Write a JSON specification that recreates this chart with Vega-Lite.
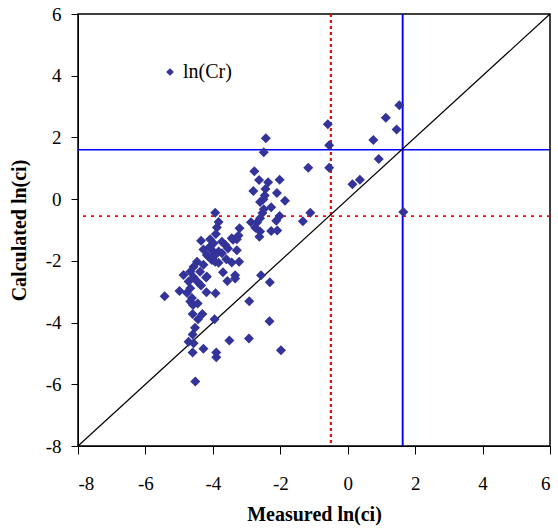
{
  "$schema": "https://vega.github.io/schema/vega-lite/v6.json",
  "autosize": {"type": "none"},
  "padding": {"left": 78, "top": 14, "right": 8, "bottom": 85},
  "width": 472,
  "height": 432,
  "background": "white",
  "config": {
    "view": {"stroke": "black", "strokeWidth": 1.5},
    "font": "Liberation Serif"
  },
  "datasets": {
    "pts": [
      {"m": -0.59, "c": 2.43}, {"m": -0.55, "c": 1.75}, {"m": -0.55, "c": 1.02}, {"m": -1.17, "c": 1.02},
      {"m": 0.14, "c": 0.48}, {"m": 0.36, "c": 0.63}, {"m": 0.92, "c": 1.30}, {"m": 0.76, "c": 1.92},
      {"m": 1.13, "c": 2.64}, {"m": 1.45, "c": 2.26}, {"m": 1.53, "c": 3.04}, {"m": 1.65, "c": -0.42},
      {"m": -1.11, "c": -0.44}, {"m": -1.33, "c": -0.72},
      {"m": -2.43, "c": 1.97}, {"m": -2.49, "c": 1.52}, {"m": -2.77, "c": 0.90}, {"m": -2.63, "c": 0.62},
      {"m": -2.02, "c": 0.63}, {"m": -2.36, "c": 0.55}, {"m": -2.44, "c": 0.33}, {"m": -2.80, "c": 0.26},
      {"m": -2.10, "c": 0.20}, {"m": -2.46, "c": 0.12}, {"m": -1.86, "c": -0.05}, {"m": -2.50, "c": 0.0},
      {"m": -2.60, "c": -0.09}, {"m": -2.27, "c": -0.26}, {"m": -2.49, "c": -0.33}, {"m": -2.53, "c": -0.45},
      {"m": -2.02, "c": -0.55}, {"m": -2.12, "c": -0.70}, {"m": -2.27, "c": -1.03}, {"m": -2.09, "c": -1.02},
      {"m": -2.69, "c": -0.76}, {"m": -2.87, "c": -0.75}, {"m": -2.60, "c": -0.62}, {"m": -3.21, "c": -0.94},
      {"m": -2.74, "c": -0.93}, {"m": -2.60, "c": -1.05}, {"m": -2.62, "c": -1.22},
      {"m": -3.93, "c": -0.44}, {"m": -3.83, "c": -0.74}, {"m": -3.88, "c": -0.92}, {"m": -3.91, "c": -1.13},
      {"m": -3.24, "c": -1.18}, {"m": -3.44, "c": -1.27}, {"m": -4.08, "c": -1.30}, {"m": -4.35, "c": -1.35},
      {"m": -3.98, "c": -1.43}, {"m": -3.73, "c": -1.38}, {"m": -3.63, "c": -1.49}, {"m": -3.29, "c": -1.30},
      {"m": -3.40, "c": -1.32}, {"m": -4.28, "c": -1.63}, {"m": -4.03, "c": -1.65}, {"m": -3.83, "c": -1.70},
      {"m": -3.73, "c": -1.75}, {"m": -3.29, "c": -1.66}, {"m": -4.18, "c": -1.81}, {"m": -3.93, "c": -1.81},
      {"m": -4.13, "c": -1.86}, {"m": -4.47, "c": -2.03}, {"m": -4.03, "c": -1.97}, {"m": -3.83, "c": -2.06},
      {"m": -3.44, "c": -2.05}, {"m": -3.22, "c": -2.03}, {"m": -3.93, "c": -2.03}, {"m": -4.57, "c": -2.19},
      {"m": -4.28, "c": -2.13}, {"m": -3.70, "c": -2.37}, {"m": -4.67, "c": -2.35}, {"m": -4.38, "c": -2.35},
      {"m": -4.87, "c": -2.46}, {"m": -3.34, "c": -2.47}, {"m": -3.34, "c": -2.57}, {"m": -4.57, "c": -2.53},
      {"m": -4.20, "c": -2.54}, {"m": -3.57, "c": -2.65}, {"m": -4.72, "c": -2.67}, {"m": -4.44, "c": -2.69},
      {"m": -4.67, "c": -2.89}, {"m": -4.99, "c": -2.98}, {"m": -5.43, "c": -3.15}, {"m": -4.77, "c": -3.03},
      {"m": -4.62, "c": -3.20}, {"m": -4.19, "c": -3.02}, {"m": -3.92, "c": -3.05}, {"m": -4.59, "c": -3.43},
      {"m": -4.45, "c": -3.38}, {"m": -4.67, "c": -3.32}, {"m": -4.60, "c": -3.72}, {"m": -4.31, "c": -3.72},
      {"m": -4.44, "c": -3.89}, {"m": -3.95, "c": -3.89}, {"m": -4.53, "c": -4.17}, {"m": -4.60, "c": -4.39},
      {"m": -4.72, "c": -4.62}, {"m": -4.57, "c": -4.67}, {"m": -4.60, "c": -4.97}, {"m": -4.28, "c": -4.85},
      {"m": -3.90, "c": -4.97}, {"m": -3.90, "c": -5.12}, {"m": -3.51, "c": -4.58}, {"m": -2.93, "c": -4.52},
      {"m": -1.98, "c": -4.90}, {"m": -4.52, "c": -5.91}, {"m": -2.92, "c": -3.31}, {"m": -2.32, "c": -3.96},
      {"m": -2.57, "c": -2.47}, {"m": -2.31, "c": -2.69}, {"m": -4.18, "c": -2.51}, {"m": -3.60, "c": -1.95},
      {"m": -4.10, "c": -1.55}, {"m": -4.35, "c": -2.80}, {"m": -3.55, "c": -1.60}
    ],
    "diag": [{"m": -8, "c": -8}, {"m": 6, "c": 6}],
    "vlines": [{"v": -0.5, "kind": "red-v"}, {"v": 1.63, "kind": "blue-v"}],
    "hlines": [{"v": -0.55, "kind": "red-h"}, {"v": 1.6, "kind": "blue-h"}]
  },
  "encoding": {
    "x": {
      "type": "quantitative",
      "scale": {"domain": [-8, 6], "nice": false, "zero": false},
      "axis": {
        "title": "Measured ln(ci)", "values": [-8, -6, -4, -2, 0, 2, 4, 6], "grid": false,
        "labelExpr": "'' + datum.value",
        "domainColor": "black", "tickColor": "black", "tickSize": 8, "labelFontSize": 19,
        "labelColor": "black", "labelPadding": 20, "titleFontSize": 20, "titleFontWeight": "bold",
        "titleColor": "black", "titlePadding": 11, "labelFont": "Liberation Serif", "titleFont": "Liberation Serif"
      }
    },
    "y": {
      "type": "quantitative",
      "scale": {"domain": [-8, 6], "nice": false, "zero": false},
      "axis": {
        "title": "Calculated ln(ci)", "values": [-8, -6, -4, -2, 0, 2, 4, 6], "grid": false,
        "labelExpr": "'' + datum.value",
        "domainColor": "black", "tickColor": "black", "tickSize": 7, "labelFontSize": 19,
        "labelColor": "black", "labelPadding": 10, "titleFontSize": 20, "titleFontWeight": "bold",
        "titleColor": "black", "titlePadding": 16, "labelFont": "Liberation Serif", "titleFont": "Liberation Serif"
      }
    }
  },
  "layer": [
    {
      "data": {"name": "vlines"},
      "mark": {"type": "rule"},
      "encoding": {
        "x": {"field": "v", "type": "quantitative"},
        "y": null,
        "color": {"field": "kind", "type": "nominal", "scale": {"domain": ["red-v", "blue-v", "red-h", "blue-h"], "range": ["#FF0000", "#0000FF", "#FF0000", "#0000FF"]}, "legend": null},
        "strokeDash": {"field": "kind", "type": "nominal", "scale": {"domain": ["red-v", "blue-v", "red-h", "blue-h"], "range": [[3, 3], [1, 0], [3, 5], [1, 0]]}, "legend": null},
        "strokeWidth": {"field": "kind", "type": "nominal", "scale": {"domain": ["red-v", "blue-v", "red-h", "blue-h"], "range": [2.2, 1.3, 1.6, 1.3]}, "legend": null}
      }
    },
    {
      "data": {"name": "hlines"},
      "mark": {"type": "rule"},
      "encoding": {
        "y": {"field": "v", "type": "quantitative"},
        "x": null,
        "color": {"field": "kind", "type": "nominal", "scale": {"domain": ["red-v", "blue-v", "red-h", "blue-h"], "range": ["#FF0000", "#0000FF", "#FF0000", "#0000FF"]}, "legend": null},
        "strokeDash": {"field": "kind", "type": "nominal", "scale": {"domain": ["red-v", "blue-v", "red-h", "blue-h"], "range": [[3, 3], [1, 0], [3, 5], [1, 0]]}, "legend": null},
        "strokeWidth": {"field": "kind", "type": "nominal", "scale": {"domain": ["red-v", "blue-v", "red-h", "blue-h"], "range": [2.2, 1.3, 1.6, 1.3]}, "legend": null}
      }
    },
    {
      "data": {"name": "diag"},
      "mark": {"type": "line", "color": "black", "strokeWidth": 1.2},
      "encoding": {"x": {"field": "m"}, "y": {"field": "c"}}
    },
    {
      "data": {"name": "pts"},
      "mark": {"type": "point", "shape": "diamond", "filled": true, "opacity": 1, "size": 100},
      "encoding": {
        "x": {"field": "m"},
        "y": {"field": "c"},
        "fill": {
          "datum": "ln(Cr)", "type": "nominal",
          "scale": {"range": ["#333399"]},
          "legend": {
            "title": null, "orient": "none", "legendX": 82, "legendY": 48,
            "symbolType": "diamond", "symbolSize": 60, "labelFontSize": 20, "labelFont": "Liberation Serif",
            "labelColor": "black", "padding": 0, "labelOffset": 3
          }
        }
      }
    }
  ]
}
